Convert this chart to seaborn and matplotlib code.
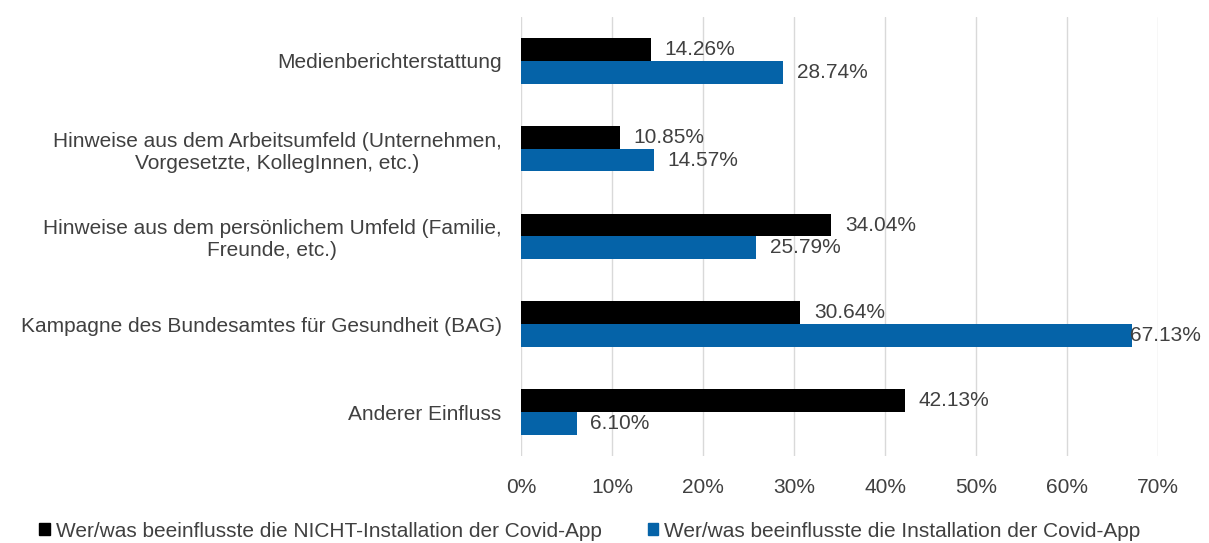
import matplotlib
matplotlib.use("Agg")
import matplotlib.pyplot as plt
import seaborn as sns
import pandas as pd

categories = [
    "Medienberichterstattung",
    "Hinweise aus dem Arbeitsumfeld (Unternehmen,\nVorgesetzte, KollegInnen, etc.)",
    "Hinweise aus dem persönlichem Umfeld (Familie,\nFreunde, etc.)",
    "Kampagne des Bundesamtes für Gesundheit (BAG)",
    "Anderer Einfluss",
]
series_names = [
    "Wer/was beeinflusste die NICHT-Installation der Covid-App",
    "Wer/was beeinflusste die Installation der Covid-App",
]
not_install = [14.26, 10.85, 34.04, 30.64, 42.13]
install = [28.74, 14.57, 25.79, 67.13, 6.10]
xticks = [0, 10, 20, 30, 40, 50, 60, 70]

df = pd.DataFrame({
    "cat": categories * 2,
    "series": [series_names[0]] * 5 + [series_names[1]] * 5,
    "value": not_install + install,
})

sns.set_theme(style="white")
plt.rcParams["font.family"] = ["Liberation Sans", "DejaVu Sans"]
textc = "#404040"
fs = 15
colors = ["#000000", "#0563a8"]

fig = plt.figure(figsize=(12.09, 5.43), dpi=100)
ax = fig.add_axes([0.431, 0.160, 0.527, 0.809])
sns.barplot(data=df, y="cat", x="value", hue="series", orient="h",
            palette=colors, saturation=1, width=0.52, linewidth=0, ax=ax,
            order=categories, hue_order=series_names, legend=True)
ax.set_xlim(0, 70)
ax.set_ylim(4.5, -0.5)
ax.set_xticks(xticks)
ax.set_xticklabels([f"{t}%" for t in xticks], color=textc, fontsize=fs)
ax.tick_params(axis="x", length=0, pad=16)
ax.tick_params(axis="y", length=0, pad=14)
for lbl in ax.get_yticklabels():
    lbl.set_multialignment("center")
    lbl.set_color(textc)
    lbl.set_fontsize(fs)
ax.set_xlabel("")
ax.set_ylabel("")
ax.grid(axis="x", color="#d9d9d9", linewidth=1)
ax.set_axisbelow(True)
for s in ax.spines.values():
    s.set_visible(False)

fig.canvas.draw()
renderer = fig.canvas.get_renderer()
for cont in ax.containers:
    anns = ax.bar_label(cont, labels=[f"{v:.2f}%" for v in cont.datavalues],
                        padding=10, color=textc, fontsize=fs)
    for a in anns:
        bb = a.get_window_extent(renderer)
        limit = fig.bbox.width - 8
        if bb.x1 > limit:
            shift_px = bb.x1 - limit
            dx, dy = a.xyann
            a.xyann = (dx - shift_px * 72 / fig.dpi, dy)

ax.get_legend().remove()
handles = [plt.Rectangle((0, 0), 1, 1, color=c) for c in colors]
fig.legend(handles, series_names, loc="lower left", bbox_to_anchor=(0.017, -0.03),
           ncol=2, frameon=False, fontsize=fs, labelcolor=textc,
           handlelength=0.5, handleheight=0.5, handletextpad=0.3, columnspacing=2.2)
fig.savefig("out.png", dpi=100)
